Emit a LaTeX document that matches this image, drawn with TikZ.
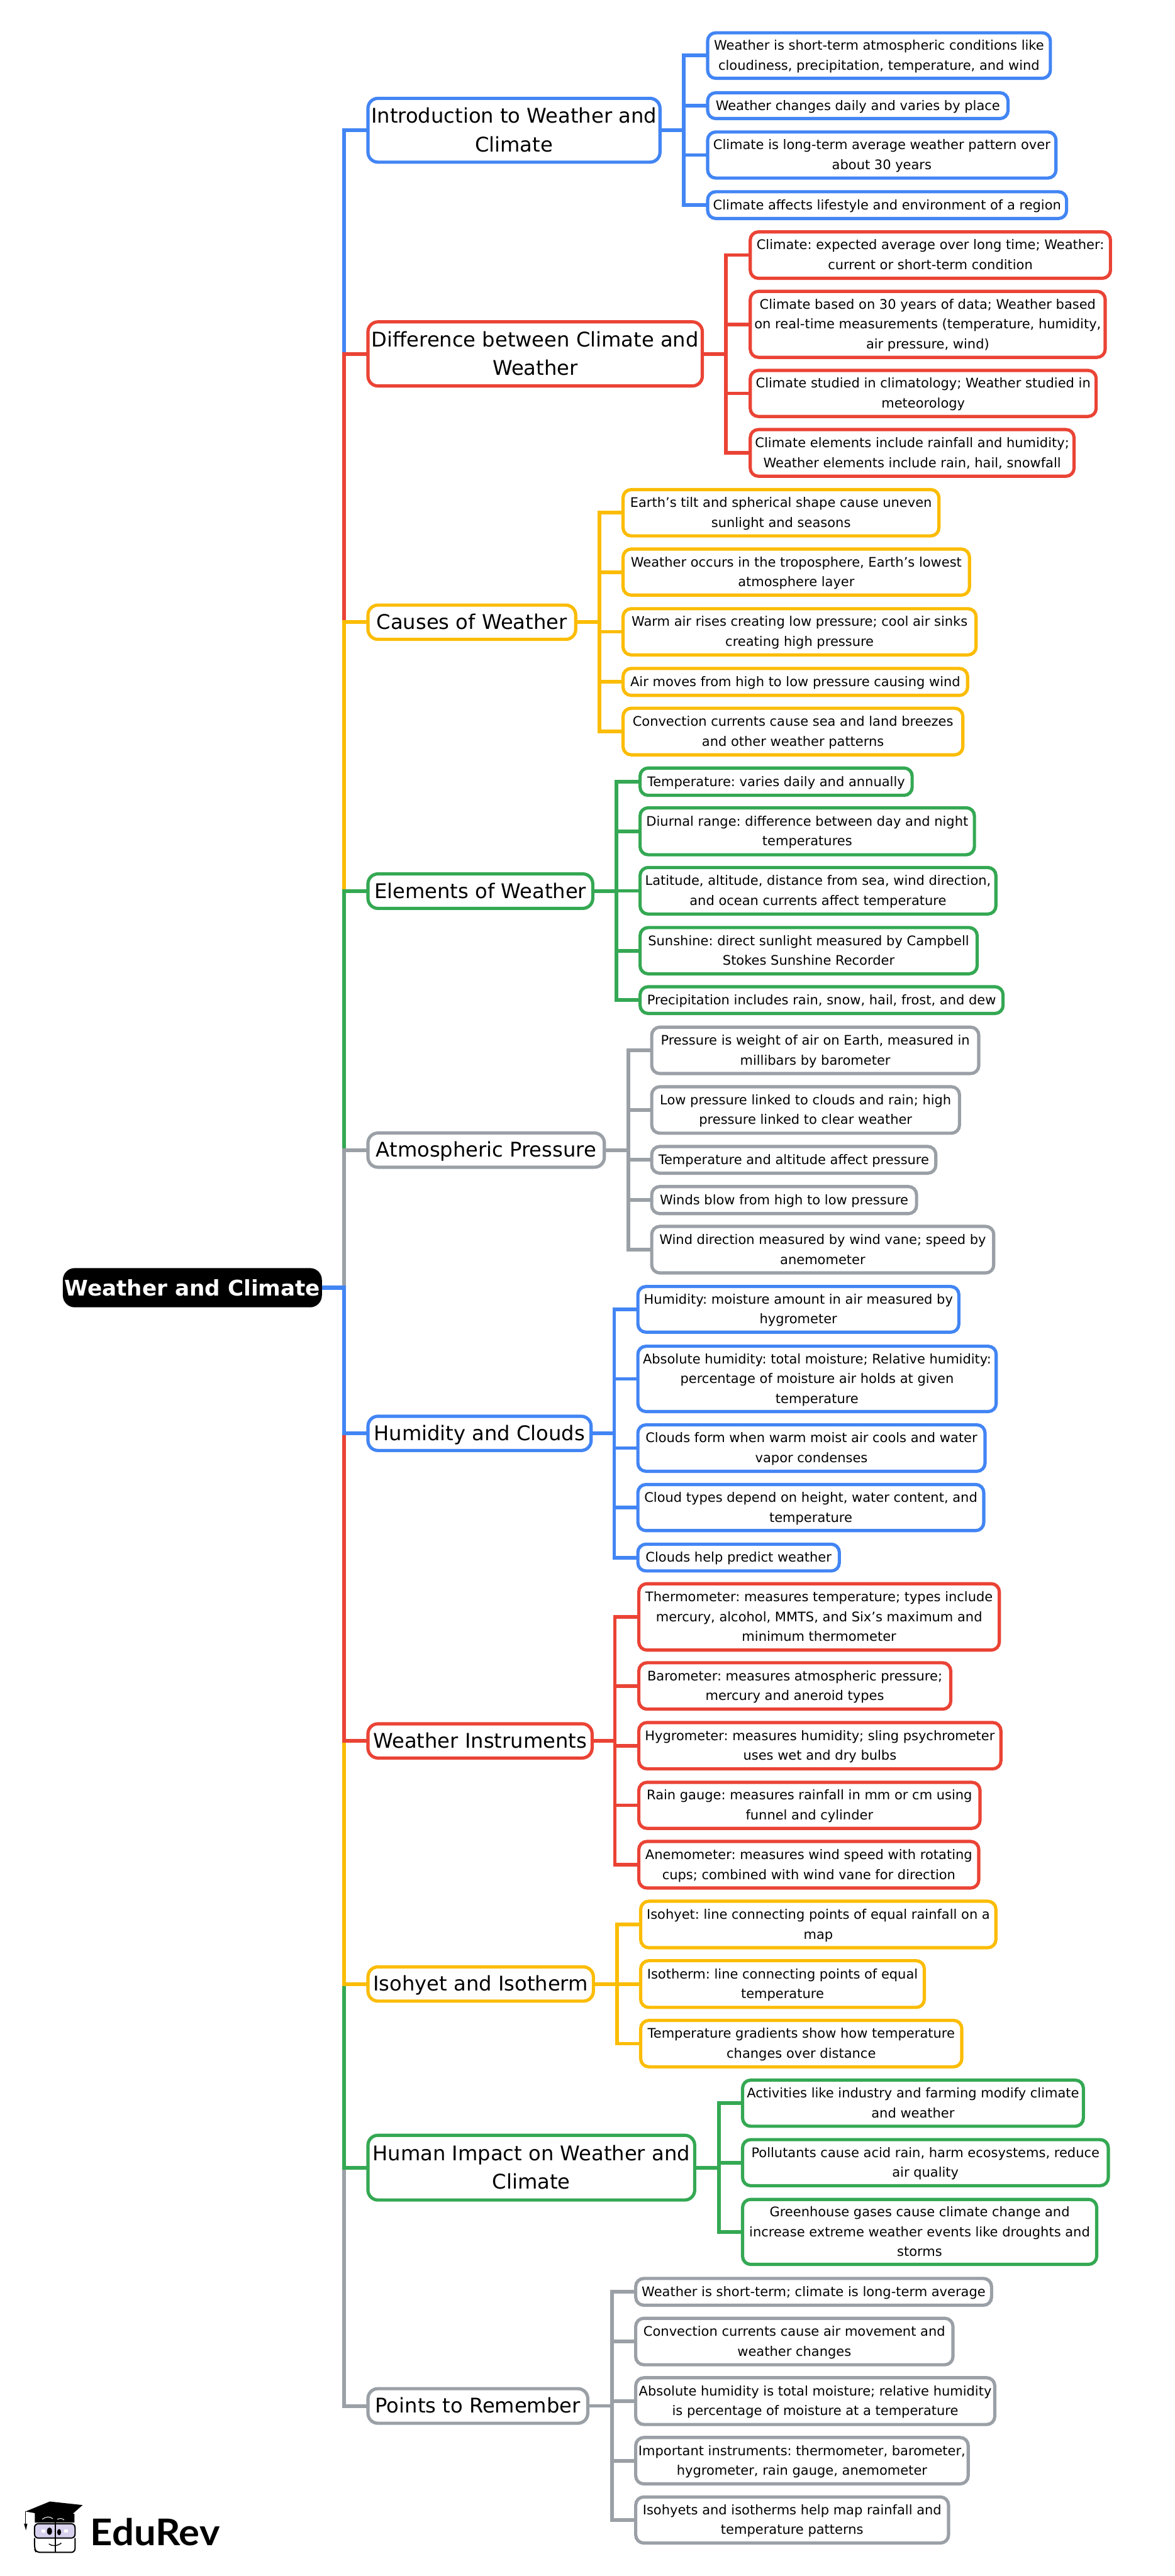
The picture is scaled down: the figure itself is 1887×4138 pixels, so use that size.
\documentclass[tikz,border=0pt]{standalone}
\usepackage{fontspec}
\setmainfont{DejaVu Sans}
\newfontfamily\logofont[FakeStretch=1.055]{Lato}
\definecolor{cblue}{HTML}{4285F4}
\definecolor{cred}{HTML}{EA4335}
\definecolor{cyellow}{HTML}{FBBC04}
\definecolor{cgreen}{HTML}{34A853}
\definecolor{cgrey}{HTML}{9AA0A6}
\tikzset{
  anybox/.style={rectangle,inner sep=0pt,outer sep=0pt,align=center,fill=white,text=black},
  leafbox/.style={anybox,line width=5.2pt,rounded corners=13pt,font=\fontsize{21.2}{32}\selectfont\frenchspacing},
  branchbox/.style={anybox,line width=5.2pt,rounded corners=16pt,font=\fontsize{32.5}{46}\selectfont\frenchspacing},
  rootbox/.style={rectangle,inner sep=0pt,outer sep=0pt,fill=black,text=white,rounded corners=19pt,font=\fontsize{34.6}{42}\selectfont\bfseries},
  wire/.style={line width=5.8pt,line join=miter,line cap=butt},
  trunk/.style={line width=6.3pt,line join=miter,line cap=butt},
}
% name, colour, x0, y0, x1, y1, text (struts fix the text block so that every line sits as in the reference)
\newcommand\lfbox[7]{\node[leafbox,draw=#2,minimum width={(#5-#3)*1pt},minimum height={(#6-#4)*1pt}] (#1) at ({(#3+#5)/2},{(#4+#6)/2}) {\rule{0pt}{20pt}#7\rule[-5.5pt]{0pt}{5.5pt}};}
\newcommand\brbox[7]{\node[branchbox,draw=#2,minimum width={(#5-#3)*1pt},minimum height={(#6-#4)*1pt}] (#1) at ({(#3+#5)/2},{(#4+#6)/2}) {\rule{0pt}{30.5pt}#7\rule[-8pt]{0pt}{8pt}};}
\begin{document}
\begin{tikzpicture}[x=1pt,y=-1pt]
\useasboundingbox (0,0) rectangle (1887,4138);
\fill[white] (0,0) rectangle (1887,4138);

\node[rootbox,minimum width=416pt,minimum height=63pt] (root) at (309,2068.5) {Weather and Climate};
\coordinate (sp) at (552.7,0);

% Introduction
\brbox{b1}{cblue}{591}{158}{1060}{260.5}{Introduction to Weather and\\Climate}
\lfbox{a1}{cblue}{1136.5}{52.7}{1687}{125.8}{Weather is short-term atmospheric conditions like\\cloudiness, precipitation, temperature, and wind}
\lfbox{a2}{cblue}{1136.5}{149}{1619}{190.5}{Weather changes daily and varies by place}
\lfbox{a3}{cblue}{1136.5}{212}{1696}{286}{Climate is long-term average weather pattern over\\about 30 years}
\lfbox{a4}{cblue}{1136.5}{308}{1713}{351}{Climate affects lifestyle and environment of a region}
\coordinate (va) at (1098.5,0);
% Difference
\brbox{b2}{cred}{591}{517}{1128}{620}{Difference between Climate and\\Weather}
\lfbox{c1}{cred}{1205}{372.5}{1783.5}{447}{Climate: expected average over long time; Weather:\\current or short-term condition}
\lfbox{c2}{cred}{1205}{468}{1775}{574}{Climate based on 30 years of data; Weather based\\on real-time measurements (temperature, humidity,\\air pressure, wind)}
\lfbox{c3}{cred}{1205}{595}{1760.5}{669}{Climate studied in climatology; Weather studied in\\meteorology}
\lfbox{c4}{cred}{1205}{690}{1725}{765}{Climate elements include rainfall and humidity;\\Weather elements include rain, hail, snowfall}
\coordinate (vc) at (1166,0);
% Causes
\brbox{b3}{cyellow}{591}{972}{924.6}{1027}{Causes of Weather}
\lfbox{d1}{cyellow}{1000.7}{786.5}{1508}{860.8}{Earth’s tilt and spherical shape cause uneven\\sunlight and seasons}
\lfbox{d2}{cyellow}{1000.7}{882}{1557}{956}{Weather occurs in the troposphere, Earth’s lowest\\atmosphere layer}
\lfbox{d3}{cyellow}{1000.7}{977.8}{1567.7}{1052}{Warm air rises creating low pressure; cool air sinks\\creating high pressure}
\lfbox{d4}{cyellow}{1000.7}{1073.8}{1554}{1117}{Air moves from high to low pressure causing wind}
\lfbox{d5}{cyellow}{1000.7}{1137.7}{1546.4}{1212.5}{Convection currents cause sea and land breezes\\and other weather patterns}
\coordinate (vd) at (962.6,0);
% Elements
\brbox{b4}{cgreen}{591}{1403.8}{952}{1459.2}{Elements of Weather}
\lfbox{e1}{cgreen}{1028}{1233.7}{1465}{1277.6}{Temperature: varies daily and annually}
\lfbox{e2}{cgreen}{1028}{1297.6}{1565}{1373}{Diurnal range: difference between day and night\\temperatures}
\lfbox{e3}{cgreen}{1028}{1393.5}{1599.5}{1468.3}{Latitude, altitude, distance from sea, wind direction,\\and ocean currents affect temperature}
\lfbox{e4}{cgreen}{1028}{1490}{1569.4}{1564.3}{Sunshine: direct sunlight measured by Campbell\\Stokes Sunshine Recorder}
\lfbox{e5}{cgreen}{1028}{1585}{1611}{1628}{Precipitation includes rain, snow, hail, frost, and dew}
\coordinate (ve) at (990,0);
% Pressure
\brbox{b5}{cgrey}{591}{1820}{970.6}{1875}{Atmospheric Pressure}
\lfbox{f1}{cgrey}{1046.7}{1650}{1572}{1724.5}{Pressure is weight of air on Earth, measured in\\millibars by barometer}
\lfbox{f2}{cgrey}{1046.7}{1745.7}{1541}{1820.3}{Low pressure linked to clouds and rain; high\\pressure linked to clear weather}
\lfbox{f3}{cgrey}{1046.7}{1841.6}{1503}{1884.6}{Temperature and altitude affect pressure}
\lfbox{f4}{cgrey}{1046.7}{1906}{1472}{1949.5}{Winds blow from high to low pressure}
\lfbox{f5}{cgrey}{1046.7}{1970}{1596}{2044.8}{Wind direction measured by wind vane; speed by\\anemometer}
\coordinate (vf) at (1009.5,0);
% Humidity
\brbox{b6}{cblue}{591}{2275}{949.4}{2330}{Humidity and Clouds}
\lfbox{g1}{cblue}{1024.5}{2066.6}{1540}{2140}{Humidity: moisture amount in air measured by\\hygrometer}
\lfbox{g2}{cblue}{1024.5}{2162.5}{1600}{2267.5}{Absolute humidity: total moisture; Relative humidity:\\percentage of moisture air holds at given\\temperature}
\lfbox{g3}{cblue}{1024.5}{2288.8}{1582}{2363.4}{Clouds form when warm moist air cools and water\\vapor condenses}
\lfbox{g4}{cblue}{1024.5}{2384.6}{1580}{2458.7}{Cloud types depend on height, water content, and\\temperature}
\lfbox{g5}{cblue}{1024.5}{2480.5}{1348}{2523.5}{Clouds help predict weather}
\coordinate (vg) at (986.5,0);
% Instruments
\brbox{b7}{cred}{591}{2769}{951}{2824}{Weather Instruments}
\lfbox{h1}{cred}{1026}{2544}{1605}{2650.6}{Thermometer: measures temperature; types include\\mercury, alcohol, MMTS, and Six’s maximum and\\minimum thermometer}
\lfbox{h2}{cred}{1026}{2671}{1527}{2745.5}{Barometer: measures atmospheric pressure;\\mercury and aneroid types}
\lfbox{h3}{cred}{1026}{2767}{1607.5}{2841.4}{Hygrometer: measures humidity; sling psychrometer\\uses wet and dry bulbs}
\lfbox{h4}{cred}{1026}{2863}{1574}{2937}{Rain gauge: measures rainfall in mm or cm using\\funnel and cylinder}
\lfbox{h5}{cred}{1026}{2958}{1572}{3032.8}{Anemometer: measures wind speed with rotating\\cups; combined with wind vane for direction}
\coordinate (vh) at (987.4,0);
% Isohyet
\brbox{b8}{cyellow}{591}{3159.5}{953}{3214.5}{Isohyet and Isotherm}
\lfbox{i1}{cyellow}{1029}{3054}{1599.5}{3128.7}{Isohyet: line connecting points of equal rainfall on a\\map}
\lfbox{i2}{cyellow}{1029}{3149.6}{1484.5}{3224.6}{Isotherm: line connecting points of equal\\temperature}
\lfbox{i3}{cyellow}{1029}{3245.5}{1544.7}{3320}{Temperature gradients show how temperature\\changes over distance}
\coordinate (vi) at (991,0);
% Human impact
\brbox{b9}{cgreen}{591}{3430}{1115.7}{3534}{Human Impact on Weather and\\Climate}
\lfbox{j1}{cgreen}{1192.6}{3341.4}{1740}{3415.5}{Activities like industry and farming modify climate\\and weather}
\lfbox{j2}{cgreen}{1192.6}{3437}{1780}{3511}{Pollutants cause acid rain, harm ecosystems, reduce\\air quality}
\lfbox{j3}{cgreen}{1192.6}{3533}{1761.4}{3637.4}{Greenhouse gases cause climate change and\\increase extreme weather events like droughts and\\storms}
\coordinate (vj) at (1154.6,0);
% Points
\brbox{b10}{cgrey}{591}{3837}{944}{3892.6}{Points to Remember}
\lfbox{k1}{cgrey}{1021}{3660}{1592.5}{3703}{Weather is short-term; climate is long-term average}
\lfbox{k2}{cgrey}{1021}{3724}{1530.5}{3798.6}{Convection currents cause air movement and\\weather changes}
\lfbox{k3}{cgrey}{1021}{3819.5}{1597.7}{3894.6}{Absolute humidity is total moisture; relative humidity\\is percentage of moisture at a temperature}
\lfbox{k4}{cgrey}{1021}{3915.5}{1555}{3990}{Important instruments: thermometer, barometer,\\hygrometer, rain gauge, anemometer}
\lfbox{k5}{cgrey}{1021}{4011}{1523.4}{4085}{Isohyets and isotherms help map rainfall and\\temperature patterns}
\coordinate (vk) at (983,0);

% Trunk connectors (far branches first, so nearer colours lie on top)
\foreach \b/\c in {b1/cblue,b2/cred,b3/cyellow,b4/cgreen,b5/cgrey,b10/cgrey,b9/cgreen,b8/cyellow,b7/cred,b6/cblue}
  \draw[trunk,draw=\c] (root.east) -- (root.east -| sp) |- (\b.west);

% Branch connectors
\foreach \n in {a1,a2,a3,a4} \draw[wire,cblue] (b1.east) -- (b1.east -| va) |- (\n.west);
\foreach \n in {c1,c2,c3,c4} \draw[wire,cred] (b2.east) -- (b2.east -| vc) |- (\n.west);
\foreach \n in {d1,d2,d3,d4,d5} \draw[wire,cyellow] (b3.east) -- (b3.east -| vd) |- (\n.west);
\foreach \n in {e1,e2,e3,e4,e5} \draw[wire,cgreen] (b4.east) -- (b4.east -| ve) |- (\n.west);
\foreach \n in {f1,f2,f3,f4,f5} \draw[wire,cgrey] (b5.east) -- (b5.east -| vf) |- (\n.west);
\foreach \n in {g1,g2,g3,g4,g5} \draw[wire,cblue] (b6.east) -- (b6.east -| vg) |- (\n.west);
\foreach \n in {h1,h2,h3,h4,h5} \draw[wire,cred] (b7.east) -- (b7.east -| vh) |- (\n.west);
\foreach \n in {i1,i2,i3} \draw[wire,cyellow] (b8.east) -- (b8.east -| vi) |- (\n.west);
\foreach \n in {j1,j2,j3} \draw[wire,cgreen] (b9.east) -- (b9.east -| vj) |- (\n.west);
\foreach \n in {k1,k2,k3,k4,k5} \draw[wire,cgrey] (b10.east) -- (b10.east -| vk) |- (\n.west);

% Logo
\node[inner sep=0pt,anchor=base west,font=\fontsize{59}{59}\selectfont\logofont\bfseries] (logo) at (145,4088.5) {EduRev};
\fill[black] (56,4037) -- (56,4052) -- (119.5,4052) -- (119.5,4038) -- cycle;
\fill[black] (41,4034.3) -- (80,4018.3) -- (132.7,4024) -- (107.7,4046) -- cycle;
\draw[white,line width=1pt] (68,4047) .. controls (74,4042) and (80,4042) .. (85,4046);
\draw[white,line width=1pt] (92,4047) .. controls (96,4045) and (100,4045) .. (103,4048);
\draw[black,line width=1.2pt] (41,4034.3) -- (41,4056);
\fill[black] (38.5,4054) -- (44,4054) -- (41.7,4064.5) -- cycle;
\draw[black,line width=2pt,rounded corners=6pt] (55.5,4077) -- (55.5,4094) -- (58,4100) -- (120.5,4100) -- (120.5,4077);
\draw[black,line width=2pt,fill=cyan!5!blue!15!white,rounded corners=6pt] (55.5,4054) rectangle (120.5,4077);
\draw[black,line width=2pt] (88.5,4050) -- (88.5,4101);
\fill[black] (79.5,4066) ellipse [x radius=4pt,y radius=6pt];
\fill[black] (95,4067.5) ellipse [x radius=3.2pt,y radius=5pt];
\fill[white] (67,4063) rectangle (73,4068);
\fill[white] (103,4063) rectangle (109,4068);
\draw[black,line width=1.4pt] (78.5,4086.5) .. controls (84,4090.5) and (92,4090) .. (98.5,4085);
\end{tikzpicture}
\end{document}
